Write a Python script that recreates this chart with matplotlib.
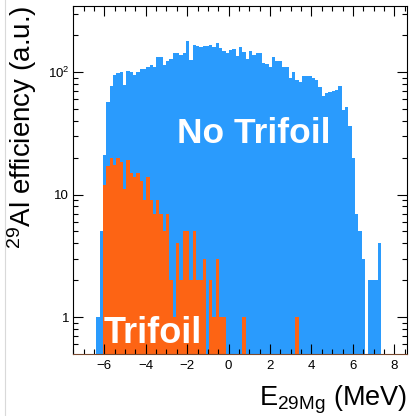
import matplotlib
matplotlib.use("Agg")
import matplotlib.pyplot as plt
from matplotlib.ticker import MultipleLocator, FixedLocator, FuncFormatter
from matplotlib.lines import Line2D
import numpy as np

plt.rcParams['font.family'] = ['Liberation Sans', 'DejaVu Sans']
plt.rcParams['mathtext.default'] = 'regular'

# 100 bins of 0.16 MeV between -7.5 and 8.5 MeV
bin_edges = np.linspace(-7.5, 8.5, 101)

# No trifoil, bins 7..92
no_trifoil_first = 7
no_trifoil_counts = [
    1.0, 5, 21, 57, 77, 95, 98, 100, 78, 102,
    100, 95, 100, 106, 106, 110, 114, 109, 133, 133,
    114, 124, 127, 144, 144, 138, 142, 179, 125, 166,
    163, 160, 163, 163, 166, 161, 173, 156, 149, 144,
    151, 155, 135, 161, 147, 127, 149, 138, 142, 142,
    119, 116, 110, 133, 123, 122, 110, 110, 89, 100,
    86, 83, 92, 93, 93, 90, 86, 76, 64, 67,
    69, 70, 72, 77, 49, 52, 36, 20, 7, 5,
    3, 0, 2, 2, 2, 4,
]

# With trifoil, bins 9..67
trifoil_first = 9
trifoil_counts = [
    12, 17, 20, 17.5, 20, 18.5, 11, 19, 15, 14,
    15, 13, 9, 14, 9, 7, 9, 7, 5, 7,
    2, 1, 4, 2, 5, 5, 2, 5, 2, 2,
    3, 0, 2, 1, 3, 1, 1, 0, 0, 0,
    0, 0, 1, 0, 0, 0, 0, 0, 0, 0,
    0, 0, 0, 0, 0, 0, 0, 0, 1,
]

blue = '#2a9bfd'
orange = '#fd6414'


def fill_bins(first, counts):
    h = np.zeros(len(bin_edges) - 1)
    h[first:first + len(counts)] = counts
    return h


h_no = fill_bins(no_trifoil_first, no_trifoil_counts)
h_tri = fill_bins(trifoil_first, trifoil_counts)

fig = plt.figure(figsize=(4.1, 4.16), dpi=100)
ax = fig.add_axes([73.3 / 410, 62.5 / 416, (406.7 - 73.3) / 410, (410 - 62.5) / 416])

ax.stairs(h_no, bin_edges, fill=True, baseline=1e-3, color=blue, lw=0)
ax.stairs(h_tri, bin_edges, fill=True, baseline=1e-3, color=orange, lw=0)

ax.set_yscale('log')
ax.set_xlim(-7.5, 8.6)
ax.set_ylim(0.504, 346)

# ticks on all four sides, pointing in
ax.xaxis.set_major_locator(MultipleLocator(2))
ax.xaxis.set_minor_locator(MultipleLocator(0.5))
ax.yaxis.set_major_locator(FixedLocator([1, 10, 100]))
ax.yaxis.set_minor_locator(FixedLocator([m * d for d in (0.1, 1, 10, 100) for m in range(2, 10)]))
ax.yaxis.set_major_formatter(FuncFormatter(
    lambda v, p: {1: '1', 10: '10', 100: '$10^{2}$'}.get(int(round(v)), '')))
ax.xaxis.set_major_formatter(FuncFormatter(lambda v, p: f'{v:.0f}'.replace('-', '\u2212')))
ax.tick_params(which='both', direction='in', top=True, right=True, width=0.8,
               labelsize=9.5, colors='black')
ax.tick_params(which='major', length=7)
ax.tick_params(which='minor', length=3.5)
ax.tick_params(axis='x', pad=5)
ax.tick_params(axis='y', pad=3)

for s in ax.spines.values():
    s.set_linewidth(0.8)
ax.spines['bottom'].set_color('#7a4a30')

ax.text(1.23, 26.3, 'No Trifoil', color='white', fontsize=25.5, fontweight='bold',
        ha='center', va='baseline')
ax.text(-3.64, 0.61, 'Trifoil', color='white', fontsize=26, fontweight='bold',
        ha='center', va='baseline')

fig.text(22 / 410, 1 - 5 / 416, '$^{29}$Al efficiency (a.u.)', rotation=90,
         fontsize=20, ha='center', va='top')
fig.text(407 / 410, 1 - 405 / 416, 'E$_{29Mg}$ (MeV)', fontsize=19.5,
         ha='right', va='baseline')

# faint page edge on the left
fig.add_artist(Line2D([5 / 410, 5 / 410], [0, 1], color='#d9d9d9', lw=0.8))

fig.savefig('out.png', dpi=100)
